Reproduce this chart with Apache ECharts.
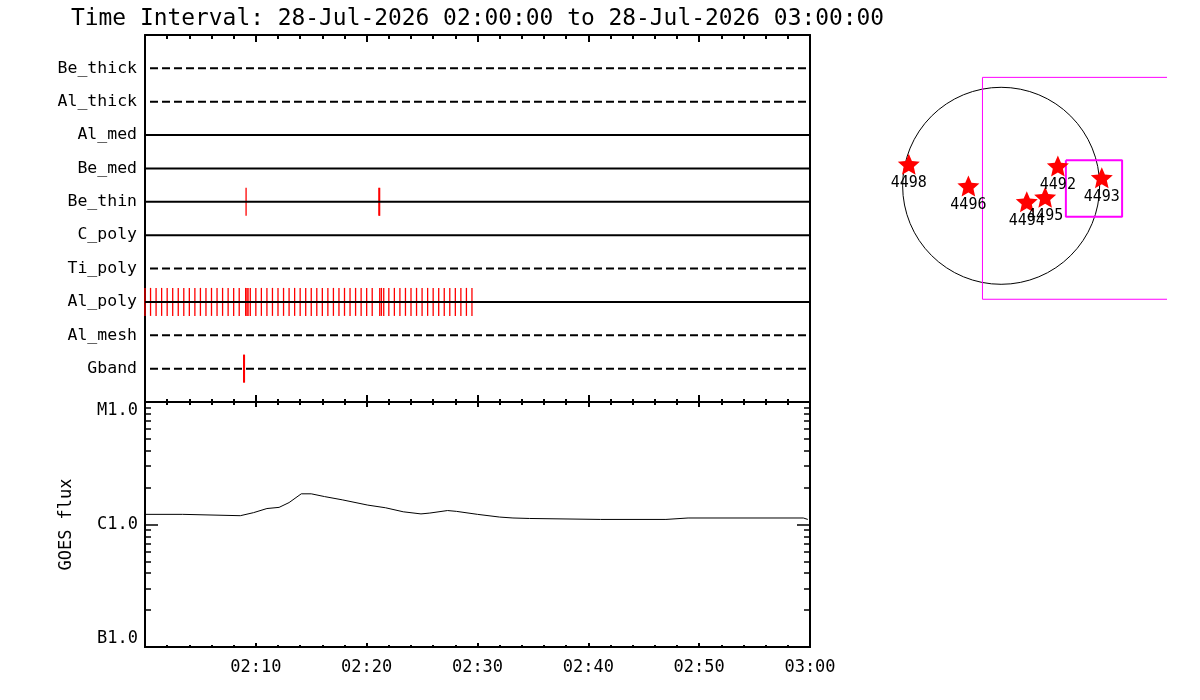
<!DOCTYPE html>
<html>
<head>
<meta charset="UTF-8">
<title>Filter events and GOES flux</title>
<script src="https://cdn.jsdelivr.net/npm/echarts@6/dist/echarts.min.js"></script>
<style>
  html, body { margin: 0; padding: 0; background: #fff; }
  #main { width: 1200px; height: 700px; }
</style>
</head>
<body>
<div id="main"></div>
<script>
var titleText = 'Time Interval: 28-Jul-2026 02:00:00 to 28-Jul-2026 03:00:00';

// filter rows, from bottom to top
var rowNames = ['Gband', 'Al_mesh', 'Al_poly', 'Ti_poly', 'C_poly', 'Be_thin', 'Be_med', 'Al_med', 'Al_thick', 'Be_thick'];

// event times, minutes after 02:00
var gbandTimes = [8.9, 8.97];
var beThinTimes = [9.12, 21.1, 21.17];
var alPolyTimes = [0, 0.5, 1, 1.5, 2, 2.5, 3, 3.5, 4, 4.5, 5, 5.5, 6, 6.5, 7, 7.5, 8, 8.5,
    9.08, 9.2, 9.3, 9.5, 10, 10.5, 11, 11.5, 12, 12.5, 13, 13.5, 14, 14.5, 15, 15.5, 16, 16.5,
    17, 17.5, 18, 18.5, 19, 19.5, 20, 20.5, 21.18, 21.33, 21.54, 22, 22.5, 23, 23.5, 24, 24.5,
    25, 25.5, 26, 26.5, 27, 27.5, 28, 28.5, 29, 29.5];

// GOES flux (W/m2)
var goesTime = [0, 3.4, 3.5, 8.6, 9.8, 11.0, 12.1, 13.0, 14.1, 15.0, 16.2, 17.8, 20.1, 21.7, 23.3,
    24.9, 25.7, 27.3, 28.1, 30.0, 32.0, 33.2, 34.7, 41.1, 47.0, 49.0, 59.4, 59.8];
var goesFlux = [1.21e-6, 1.21e-6, 1.18e-6, 1.18e-6, 1.25e-6, 1.35e-6, 1.38e-6, 1.51e-6, 1.78e-6, 1.78e-6,
    1.69e-6, 1.59e-6, 1.44e-6, 1.37e-6, 1.27e-6, 1.22e-6, 1.24e-6, 1.30e-6, 1.28e-6, 1.21e-6,
    1.15e-6, 1.13e-6, 1.12e-6, 1.10e-6, 1.10e-6, 1.13e-6, 1.13e-6, 1.10e-6];

var timeTicks = [10, 20, 30, 40, 50, 60];
var timeLabels = ['02:10', '02:20', '02:30', '02:40', '02:50', '03:00'];
var goesClassTicks = [1e-7, 1e-6, 1e-5];
var goesClassLabels = ['B1.0', 'C1.0', 'M1.0'];
var goesMinorTicks = [2e-7, 3e-7, 4e-7, 5e-7, 6e-7, 7e-7, 8e-7, 9e-7, 2e-6, 3e-6, 4e-6, 5e-6, 6e-6, 7e-6, 8e-6, 9e-6];

// solar disk map, arcsec
var diskR = [960];
var fovLeft = -182, fovRight = 2000, fovTop = 1057, fovBottom = -1106;
var boxLeft = 631, boxRight = 1179, boxTop = 248, boxBottom = -301;
var arNames = ['4498', '4496', '4492', '4493', '4494', '4495'];
var arX = [-900, -319, 553, 981, 250, 429];
var arY = [210, -2, 193, 79, -155, -112];

var FONT = 'DejaVu Sans Mono';
var dashedRows = ['Gband', 'Al_mesh', 'Ti_poly', 'Al_thick', 'Be_thick'];
var starPath = 'path://M50,2 L63.5,33.4 L97.6,36.5 L71.9,59.1 L79.4,92.5 L50,75 L20.6,92.5 L28.1,59.1 L2.4,36.5 L36.5,33.4 Z';

var chart = echarts.init(document.getElementById('main'));

var blackLine = {onZero: false, lineStyle: {color: '#000', width: 2}};

function timeAxis(grid, pos, tickLen, minorLen, labels) {
    return {
        type: 'value', gridIndex: grid, position: pos, min: 0, max: 60, interval: 10,
        axisLine: blackLine,
        axisTick: {inside: true, length: tickLen, lineStyle: {color: '#000', width: 2}},
        minorTick: {show: true, splitNumber: 5, length: minorLen, lineStyle: {color: '#000', width: 2}},
        splitLine: {show: false},
        axisLabel: {
            show: labels, color: '#000', fontFamily: FONT, fontSize: 17, margin: 12,
            formatter: function (v) {
                var i = timeTicks.indexOf(v);
                return i < 0 ? '' : timeLabels[i];
            }
        }
    };
}

function goesAxis(pos, values, len, labels) {
    var ax = {
        type: 'log', logBase: 10, gridIndex: 1, position: pos, min: 1e-7, max: 1e-5,
        axisLine: blackLine,
        axisTick: {inside: true, length: len, customValues: values, lineStyle: {color: '#000', width: 1.5}},
        splitLine: {show: false},
        axisLabel: {show: false}
    };
    if (labels) {
        ax.axisLabel = {
            show: true, customValues: goesClassTicks, color: '#000', fontFamily: FONT, fontSize: 17, margin: 7,
            verticalAlignMinLabel: 'bottom', verticalAlignMaxLabel: 'top',
            formatter: function (v) {
                for (var i = 0; i < goesClassTicks.length; i++) {
                    if (Math.abs(Math.log10(v) - Math.log10(goesClassTicks[i])) < 1e-6) return goesClassLabels[i];
                }
                return '';
            }
        };
        ax.name = 'GOES flux';
        ax.nameLocation = 'middle';
        ax.nameGap = 70;
        ax.nameTextStyle = {color: '#000', fontFamily: FONT, fontSize: 17};
    }
    return ax;
}

var series = [];

// filter row lines
rowNames.forEach(function (name, i) {
    var dashed = dashedRows.indexOf(name) >= 0;
    series.push({
        type: 'line', xAxisIndex: 0, yAxisIndex: 0, symbol: 'none', silent: true, z: 5,
        data: [[0, i + 1], [60, i + 1]],
        lineStyle: {color: '#000', width: 2, type: dashed ? [8, 4] : 'solid', dashOffset: 7}
    });
});

// event ticks
function eventSeries(times, rowName) {
    var row = rowNames.indexOf(rowName) + 1;
    return {
        type: 'scatter', xAxisIndex: 0, yAxisIndex: 0, symbol: 'rect', symbolSize: [1.3, 28],
        silent: true, clip: false, z: 3,
        itemStyle: {color: '#ff0000', opacity: 1},
        data: times.map(function (t) { return [t, row]; })
    };
}
series.push(eventSeries(gbandTimes, 'Gband'));
series.push(eventSeries(beThinTimes, 'Be_thin'));
series.push(eventSeries(alPolyTimes, 'Al_poly'));

// GOES curve
series.push({
    type: 'line', xAxisIndex: 2, yAxisIndex: 2, symbol: 'none', silent: true,
    lineStyle: {color: '#000', width: 1},
    data: goesTime.map(function (t, i) { return [t, goesFlux[i]]; })
});

// solar disk
series.push({
    type: 'custom', xAxisIndex: 4, yAxisIndex: 6, silent: true,
    data: diskR.map(function (r) { return [0, 0, r]; }),
    renderItem: function (params, api) {
        var c = api.coord([api.value(0), api.value(1)]);
        var edge = api.coord([api.value(0) + api.value(2), api.value(1)]);
        return {
            type: 'circle',
            shape: {cx: c[0], cy: c[1], r: edge[0] - c[0]},
            style: {fill: 'none', stroke: '#000', lineWidth: 1}
        };
    }
});

// field of view
series.push({
    type: 'line', xAxisIndex: 4, yAxisIndex: 6, symbol: 'none', silent: true, clip: true,
    lineStyle: {color: '#ff00ff', width: 1},
    data: [[fovRight, fovTop], [fovLeft, fovTop], [fovLeft, fovBottom], [fovRight, fovBottom]]
});
series.push({
    type: 'line', xAxisIndex: 4, yAxisIndex: 6, symbol: 'none', silent: true,
    lineStyle: {color: '#ff00ff', width: 2},
    data: [[boxLeft, boxTop], [boxRight, boxTop], [boxRight, boxBottom], [boxLeft, boxBottom], [boxLeft, boxTop]]
});

// active regions
series.push({
    type: 'scatter', xAxisIndex: 4, yAxisIndex: 6, symbol: starPath, symbolSize: [22, 21],
    silent: true, z: 4,
    itemStyle: {color: '#ff0000', opacity: 1},
    label: {
        show: true, position: 'bottom', distance: 1, color: '#000', fontFamily: FONT, fontSize: 15,
        formatter: function (p) { return arNames[p.dataIndex]; }
    },
    data: arX.map(function (x, i) { return [x, arY[i]]; })
});

var option = {
    animation: false,
    backgroundColor: '#fff',
    title: {
        text: titleText, left: 66, top: 3,
        textStyle: {color: '#000', fontFamily: FONT, fontWeight: 'normal', fontSize: 22.9}
    },
    grid: [
        {left: 145, top: 35, width: 665, height: 367},
        {left: 145, top: 402, width: 665, height: 245},
        {left: 878, top: 62.7, width: 287.3, height: 246.2}
    ],
    xAxis: [
        timeAxis(0, 'bottom', 7, 3, false),
        timeAxis(0, 'top', 7, 4, false),
        timeAxis(1, 'bottom', 4, 2, true),
        timeAxis(1, 'top', 5, 3, false),
        {type: 'value', gridIndex: 2, min: -1200, max: 1600, show: false}
    ],
    yAxis: [
        {
            type: 'value', gridIndex: 0, position: 'left', min: 0, max: 11, interval: 1,
            axisLine: blackLine,
            axisTick: {show: false}, splitLine: {show: false},
            axisLabel: {
                color: '#000', fontFamily: FONT, fontSize: 16.5, margin: 8,
                formatter: function (v) { return rowNames[v - 1] || ''; }
            }
        },
        {
            type: 'value', gridIndex: 0, position: 'right', min: 0, max: 11,
            axisLine: blackLine,
            axisTick: {show: false}, splitLine: {show: false}, axisLabel: {show: false}
        },
        goesAxis('left', goesClassTicks, 13, true),
        goesAxis('left', goesMinorTicks, 6, false),
        goesAxis('right', goesClassTicks, 13, false),
        goesAxis('right', goesMinorTicks, 6, false),
        {type: 'value', gridIndex: 2, min: -1200, max: 1200, show: false}
    ],
    series: series
};

chart.setOption(option);
</script>
</body>
</html>
